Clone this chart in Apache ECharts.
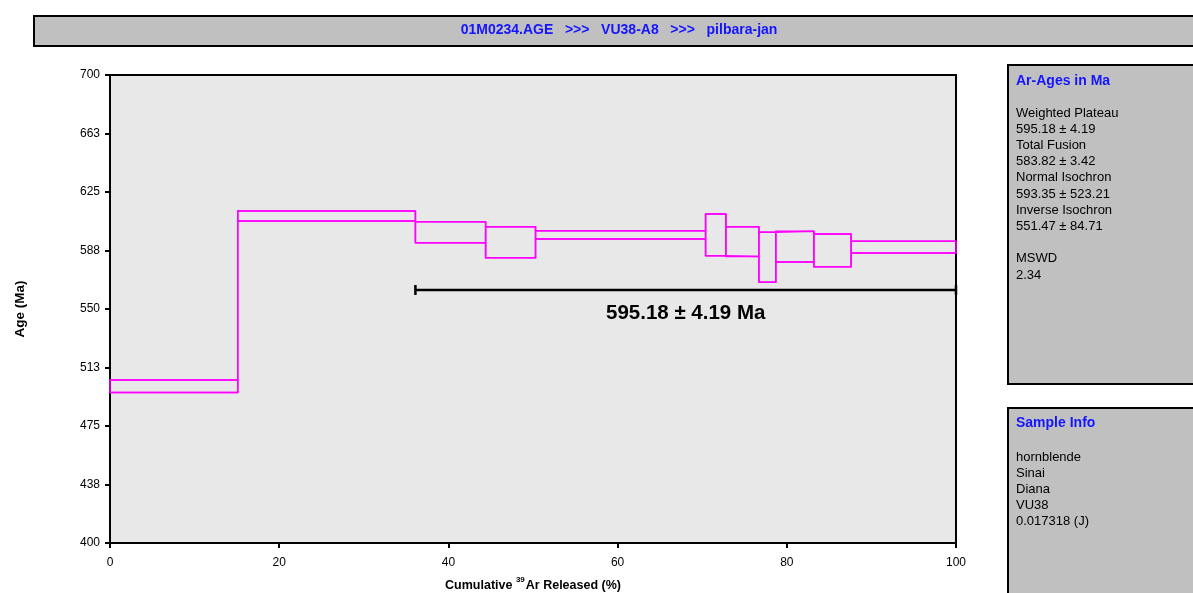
<!DOCTYPE html>
<html>
<head>
<meta charset="utf-8">
<script src="https://cdn.jsdelivr.net/npm/echarts@6/dist/echarts.min.js"></script>
<style>
html,body{margin:0;padding:0;background:#fff;}
#chart{width:1193px;height:593px;}
</style>
</head>
<body>
<div id="chart"></div>
<script>
// ---- data ----
var titleText = '01M0234.AGE   >>>   VU38-A8   >>>   pilbara-jan';
var stepEnds = [15.1, 36.1, 44.4, 50.3, 70.4, 72.8, 76.7, 78.7, 83.2, 87.6, 100];
var ageHigh  = [504.5, 612.8, 606.0, 602.8, 600.2, 610.9, 602.8, 599.2, 599.8, 598.1, 593.4];
var ageLow   = [496.4, 606.4, 592.5, 582.9, 594.9, 584.2, 583.6, 567.1, 580.1, 577.1, 585.9];
var plateauStart = 36.1;
var plateauEnd = 100;
var plateauBarAge = 562.2;
var plateauLabel = '595.18 ± 4.19 Ma';
var yTicks = [400, 438, 475, 513, 550, 588, 625, 663, 700];
var xTicks = [0, 20, 40, 60, 80, 100];
var agesTitle = 'Ar-Ages in Ma';
var agesLines = ['Weighted Plateau', '595.18 ± 4.19', 'Total Fusion', '583.82 ± 3.42', 'Normal Isochron', '593.35 ± 523.21', 'Inverse Isochron', '551.47 ± 84.71', '', 'MSWD', '2.34'];
var sampleTitle = 'Sample Info';
var sampleLines = ['hornblende', 'Sinai', 'Diana', 'VU38', '0.017318 (J)'];

// ---- build ----
var stepStarts = [0].concat(stepEnds.slice(0, -1));
var boxes = stepEnds.map(function (e, i) { return [stepStarts[i], e, ageLow[i], ageHigh[i]]; });
var upperLine = [], lowerLine = [];
for (var i = 0; i < stepEnds.length; i++) {
  upperLine.push([stepStarts[i], ageHigh[i]], [stepEnds[i], ageHigh[i]]);
  lowerLine.push([stepStarts[i], ageLow[i]], [stepEnds[i], ageLow[i]]);
}
var MAG = '#ff00ff';
var FONT = 'Liberation Sans, Arial, sans-serif';
var BLUE = '#1414ff';

var chart = echarts.init(document.getElementById('chart'), null, {renderer: 'canvas'});

var yMin = yTicks[0], yMax = yTicks[yTicks.length - 1];
var yInterval = (yMax - yMin) / (yTicks.length - 1);

var graphics = [
  {type: 'rect', left: 33, top: 15, shape: {width: 1170, height: 30}, style: {fill: '#c0c0c0', stroke: '#000', lineWidth: 2}, z: 0},
  {type: 'text', x: 619, y: 30, style: {text: titleText, fill: BLUE, font: 'bold 14px ' + FONT, textAlign: 'center', textVerticalAlign: 'middle'}},
  {type: 'rect', left: 1007, top: 64, shape: {width: 200, height: 319}, style: {fill: '#c0c0c0', stroke: '#000', lineWidth: 2}},
  {type: 'text', x: 1016, y: 81, style: {text: agesTitle, fill: BLUE, font: 'bold 14px ' + FONT, textVerticalAlign: 'middle'}},
  {type: 'rect', left: 1007, top: 407, shape: {width: 200, height: 220}, style: {fill: '#c0c0c0', stroke: '#000', lineWidth: 2}},
  {type: 'text', x: 1016, y: 423, style: {text: sampleTitle, fill: BLUE, font: 'bold 14px ' + FONT, textVerticalAlign: 'middle'}}
];
agesLines.forEach(function (t, k) {
  graphics.push({type: 'text', x: 1016, y: 113 + k * 16.2, style: {text: t, fill: '#000', font: '13px ' + FONT, textVerticalAlign: 'middle'}});
});
sampleLines.forEach(function (t, k) {
  graphics.push({type: 'text', x: 1016, y: 457 + k * 16.1, style: {text: t, fill: '#000', font: '13px ' + FONT, textVerticalAlign: 'middle'}});
});

var option = {
  backgroundColor: '#fff',
  animation: false,
  textStyle: {fontFamily: FONT},
  grid: {left: 110, right: 237, top: 75, bottom: 50, containLabel: false, outerBoundsMode: 'none',
    show: true, backgroundColor: '#e8e8e8', borderColor: '#000', borderWidth: 2},
  xAxis: {
    type: 'value', min: xTicks[0], max: xTicks[xTicks.length - 1], interval: xTicks[1] - xTicks[0],
    axisLine: {show: true, onZero: false, lineStyle: {color: '#000', width: 2}},
    axisTick: {show: true, length: 5, lineStyle: {color: '#000', width: 2}},
    splitLine: {show: false},
    axisLabel: {color: '#000', fontSize: 12, margin: 14, fontFamily: FONT},
    name: '{a|Cumulative }{s|39}{a|Ar Released (%)}',
    nameLocation: 'middle', nameGap: 33,
    nameTextStyle: {rich: {
      a: {fontSize: 12.5, fontWeight: 'bold', color: '#000', fontFamily: FONT, lineHeight: 16, verticalAlign: 'bottom'},
      s: {fontSize: 8, fontWeight: 'bold', color: '#000', fontFamily: FONT, lineHeight: 9, verticalAlign: 'top', padding: [0, 1, 0, 0]}
    }}
  },
  yAxis: {
    type: 'value', min: yMin, max: yMax, interval: yInterval,
    axisLine: {show: true, onZero: false, lineStyle: {color: '#000', width: 2}},
    axisTick: {show: true, length: 5, lineStyle: {color: '#000', width: 2}},
    splitLine: {show: false},
    axisLabel: {color: '#000', fontSize: 12, margin: 10, fontFamily: FONT,
      formatter: function (v) { return String(Math.round(v)); }},
    name: 'Age (Ma)', nameLocation: 'middle', nameGap: 83,
    nameTextStyle: {fontSize: 13.5, fontWeight: 'bold', color: '#000', fontFamily: FONT}
  },
  graphic: graphics,
  series: [
    {
      type: 'custom', data: boxes, silent: true, z: 3,
      renderItem: function (params, api) {
        var p1 = api.coord([api.value(0), api.value(3)]);
        var p2 = api.coord([api.value(1), api.value(2)]);
        return {type: 'rect', shape: {x: p1[0], y: p1[1], width: p2[0] - p1[0], height: p2[1] - p1[1]},
          style: {fill: 'none', stroke: MAG, lineWidth: 1.5}};
      }
    },
    {type: 'line', data: upperLine, showSymbol: false, symbol: 'none', lineStyle: {color: MAG, width: 1.5}, silent: true, z: 3},
    {type: 'line', data: lowerLine, showSymbol: false, symbol: 'none', lineStyle: {color: MAG, width: 1.5}, silent: true, z: 3},
    {
      type: 'custom', data: [[plateauStart, plateauEnd, plateauBarAge]], silent: true, z: 4,
      renderItem: function (params, api) {
        var a = api.coord([api.value(0), api.value(2)]);
        var b = api.coord([api.value(1), api.value(2)]);
        return {type: 'group', children: [
          {type: 'line', shape: {x1: a[0], y1: a[1], x2: b[0], y2: b[1]}, style: {stroke: '#000', lineWidth: 2.5}},
          {type: 'line', shape: {x1: a[0], y1: a[1] - 5, x2: a[0], y2: a[1] + 5}, style: {stroke: '#000', lineWidth: 2.5}},
          {type: 'line', shape: {x1: b[0], y1: b[1] - 5, x2: b[0], y2: b[1] + 5}, style: {stroke: '#000', lineWidth: 2.5}},
          {type: 'text', x: (a[0] + b[0]) / 2, y: a[1] + 23, style: {text: plateauLabel, fill: '#000', font: 'bold 20.5px ' + FONT, textAlign: 'center', textVerticalAlign: 'middle'}}
        ]};
      }
    }
  ]
};
chart.setOption(option);
</script>
</body>
</html>
